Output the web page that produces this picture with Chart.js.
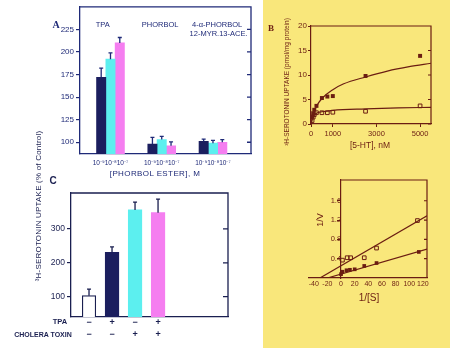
<!DOCTYPE html>
<html><head><meta charset="utf-8">
<script src="https://cdn.jsdelivr.net/npm/chart.js@4.4.1/dist/chart.umd.min.js"></script>
<style>
html,body{margin:0;padding:0;background:#fff;}
#page{position:relative;width:450px;height:348px;overflow:hidden;background:#fff;}
#yellow{position:absolute;left:263px;top:0;width:187px;height:348px;background:#f9e77b;}
canvas{position:absolute;}
.t{position:absolute;white-space:nowrap;line-height:1;font-family:'Liberation Sans',Arial,sans-serif;}
</style></head><body>
<div id="page">
<div id="yellow"></div>
<canvas id="cA" width="262" height="182" style="left:0;top:0;width:262px;height:182px"></canvas>
<canvas id="cC" width="262" height="166" style="left:0;top:182px;width:262px;height:166px"></canvas>
<canvas id="cB" width="187" height="160" style="left:263px;top:0;width:187px;height:160px"></canvas>
<canvas id="cD" width="187" height="150" style="left:263px;top:165px;width:187px;height:150px"></canvas>
</div>
<script>
// ---------- Panel A : phorbol esters ----------
const groupsA = [1, 2, 3];
const groupNamesA = [['TPA'], ['PHORBOL'], ['4-α-PHORBOL', '12-MYR.13-ACE.']];
const concLabelsA = ['10⁻⁹10⁻⁸10⁻⁷', '10⁻⁹10⁻⁸10⁻⁷', '10⁻⁹10⁻⁸10⁻⁷'];
const valuesA_1e9 = [172, 98, 101];
const errorsA_1e9 = [10, 7.5, 2.5];
const valuesA_1e8 = [192, 103, 99];
const errorsA_1e8 = [7, 3.5, 3];
const valuesA_1e7 = [210, 96, 100];
const errorsA_1e7 = [6, 4.5, 3];
const yTicksA = [100, 125, 150, 175, 200, 225];

// ---------- Panel C : TPA / cholera toxin ----------
const conditionsC = [1, 2, 3, 4];
const tpaSignsC = ['−', '+', '−', '+'];
const choleraSignsC = ['−', '−', '+', '+'];
const valuesC = [103, 231, 356, 348];
const errorsC = [19, 16, 23, 40];
const yTicksC = [100, 200, 300];

// ---------- Panel B : saturation ----------
const concB_filled = [50, 100, 150, 250, 500, 750, 1000, 2500, 5000];
const uptakeB_filled = [1.5, 2.2, 2.9, 3.7, 5.3, 5.6, 5.7, 9.8, 13.9];
const concB_open = [50, 100, 150, 250, 500, 750, 1000, 2500, 5000];
const uptakeB_open = [0.7, 1.4, 1.9, 2.3, 2.3, 2.3, 2.4, 2.6, 3.7];
const curveB_filled_x = [0, 100, 250, 500, 1000, 1500, 2500, 3500, 4500, 5500];
const curveB_filled_y = [0, 2.0, 3.6, 5.2, 7.0, 8.2, 9.6, 10.8, 11.7, 12.4];
const curveB_open_x = [0, 100, 250, 500, 1000, 2500, 4000, 5500];
const curveB_open_y = [0, 1.6, 2.2, 2.5, 2.8, 3.1, 3.3, 3.4];
const xTicksB = [0, 1000, 3000, 5000];
const yTicksB = [0, 5, 10, 15, 20];

// ---------- Panel D : double reciprocal ----------
const invS_filled = [0, 2, 8, 13, 20, 34, 52, 114];
const invV_filled = [0.08, 0.13, 0.16, 0.17, 0.18, 0.25, 0.31, 0.54];
const invS_open = [2, 9, 14, 34, 52, 112];
const invV_open = [0.37, 0.42, 0.42, 0.42, 0.62, 1.19];
const fitD_filled_x = [-20, 126];
const fitD_filled_y = [0, 0.6];
const fitD_open_x = [-31, 126];
const fitD_open_y = [0, 1.29];
const xTicksD = [-40, -20, 0, 20, 40, 60, 80, 100, 120];
const yTicksD = [0.4, 0.8, 1.2, 1.6];

// ---------- styling ----------
const NAVY = '#1b1e5e', CYAN = '#5cefef', PINK = '#f57ef0';
const INK_A = '#1f2a78', INK_C = '#1a1f50', MAROON = '#6b1d12';
const FONT = "'Liberation Sans', Arial, sans-serif";

Chart.defaults.animation = false;
Chart.defaults.responsive = false;
Chart.defaults.devicePixelRatio = 1;
Chart.defaults.font.family = FONT;
Chart.defaults.plugins.legend.display = false;
Chart.defaults.plugins.tooltip.enabled = false;

const pts = (xs, ys) => xs.map((x, i) => ({x: x, y: ys[i]}));
const setTicks = arr => s => { s.ticks = arr.map(v => ({value: v})); };

// frame: top + right borders with inward ticks
const frame = {
  id: 'frame',
  afterDraw(chart, args, o) {
    const {ctx, chartArea: a} = chart; const y = chart.scales.y;
    const left = o.fromZero ? chart.scales.x.getPixelForValue(0) : a.left;
    ctx.save(); ctx.strokeStyle = o.color; ctx.lineWidth = o.width || 1.2;
    ctx.beginPath();
    ctx.moveTo(left, a.top); ctx.lineTo(a.right, a.top); ctx.lineTo(a.right, a.bottom);
    y.ticks.forEach(t => { const py = y.getPixelForValue(t.value); ctx.moveTo(a.right, py); ctx.lineTo(a.right - (o.tick || 4), py); });
    ctx.stroke(); ctx.restore();
  }
};
// error bars (upper whisker with cap)
const errorBars = {
  id: 'errorBars',
  afterDatasetsDraw(chart, args, o) {
    const ctx = chart.ctx; const ys = chart.scales.y;
    chart.data.datasets.forEach((ds, di) => {
      if (!ds.errors) return;
      chart.getDatasetMeta(di).data.forEach((bar, i) => {
        const v = ds.data[i].y + ds.errors[i];
        const top = ys.getPixelForValue(v);
        ctx.save(); ctx.strokeStyle = o.color; ctx.lineWidth = 1.3;
        ctx.beginPath(); ctx.moveTo(bar.x, bar.y); ctx.lineTo(bar.x, top);
        ctx.moveTo(bar.x - o.cap, top); ctx.lineTo(bar.x + o.cap, top);
        ctx.stroke(); ctx.restore();
      });
    });
  }
};
// group names above bars (panel A)
const groupText = {
  id: 'groupText',
  afterDraw(chart, args, o) {
    if (!o.names) return;
    const ctx = chart.ctx; const xs = chart.scales.x;
    ctx.save(); ctx.fillStyle = o.color; ctx.font = o.font; ctx.textAlign = 'center'; ctx.textBaseline = 'middle';
    o.names.forEach((lines, i) => {
      const px = xs.getPixelForValue(o.at[i]);
      lines.forEach((l, j) => ctx.fillText(l, px + (o.dx[i] || 0) * j, o.y + j * o.lh));
    });
    ctx.restore();
  }
};

// ---------- Chart A ----------
new Chart(document.getElementById('cA'), {
  type: 'bar',
  data: { datasets: [
    {data: pts(groupsA, valuesA_1e9), errors: errorsA_1e9, backgroundColor: NAVY},
    {data: pts(groupsA, valuesA_1e8), errors: errorsA_1e8, backgroundColor: CYAN},
    {data: pts(groupsA, valuesA_1e7), errors: errorsA_1e7, backgroundColor: PINK}
  ]},
  options: {
    layout: {padding: {left: 0, right: 11, top: 5, bottom: 0}},
    datasets: {bar: {barThickness: 9.3}},
    scales: {
      x: {type: 'linear', min: 0.405, max: 3.742, offset: false,
          afterFit: s => { s.height = 28; }, afterBuildTicks: setTicks(groupsA),
          ticks: {callback: v => concLabelsA[groupsA.indexOf(v)], font: {size: 6.5}, color: INK_A, padding: 5, maxRotation: 0, autoSkip: false},
          grid: {display: false, drawTicks: false, offset: false}, border: {color: INK_A, width: 1.3}},
      y: {min: 87, max: 250,
          afterFit: s => { s.width = 80; }, afterBuildTicks: setTicks(yTicksA),
          ticks: {font: {size: 8}, color: INK_A, padding: 2},
          grid: {drawOnChartArea: false, tickLength: 4, color: INK_A, lineWidth: 1.2}, border: {color: INK_A, width: 1.3}}
    },
    plugins: {
      frame: {color: INK_A, width: 1.3},
      errorBars: {color: INK_A, cap: 2},
      groupText: {names: groupNamesA, at: [0.85, 1.97, 3.08], dx: [0, 0, 1.5], y: 25, lh: 9, color: INK_A, font: '7.5px ' + FONT}
    }
  },
  plugins: [frame, errorBars, groupText]
});

// ---------- Chart C ----------
new Chart(document.getElementById('cC'), {
  type: 'bar',
  data: { datasets: [
    {data: pts(conditionsC, valuesC), errors: errorsC,
     backgroundColor: ['#ffffff', NAVY, CYAN, PINK], borderColor: [INK_C, NAVY, CYAN, PINK], borderWidth: [1.2, 0, 0, 0], borderSkipped: 'bottom'}
  ]},
  options: {
    layout: {padding: {left: 0, right: 34, top: 11, bottom: 0}},
    datasets: {bar: {barThickness: 13.5}},
    scales: {
      x: {type: 'linear', min: 0.217, max: 7.04, offset: false,
          afterFit: s => { s.height = 31; }, afterBuildTicks: setTicks(conditionsC),
          ticks: {callback: v => { const i = conditionsC.indexOf(v); return [tpaSignsC[i], choleraSignsC[i]]; },
                  font: {size: 9, weight: 'bold', lineHeight: 1.33}, color: INK_C, padding: 0, maxRotation: 0, autoSkip: false},
          grid: {display: false, drawTicks: false, offset: false}, border: {color: INK_C, width: 1.3}},
      y: {min: 40, max: 406,
          afterFit: s => { s.width = 71; }, afterBuildTicks: setTicks(yTicksC),
          ticks: {font: {size: 8.5}, color: INK_C, padding: 2},
          grid: {drawOnChartArea: false, tickLength: 4, color: INK_C, lineWidth: 1.2}, border: {color: INK_C, width: 1.3}}
    },
    plugins: {frame: {color: INK_C, width: 1.3, tick: 5}, errorBars: {color: INK_C, cap: 2}}
  },
  plugins: [frame, errorBars]
});

// ---------- Chart B ----------
new Chart(document.getElementById('cB'), {
  type: 'scatter',
  data: { datasets: [
    {data: pts(curveB_filled_x, curveB_filled_y), showLine: true, pointRadius: 0, borderColor: MAROON, borderWidth: 1.2, cubicInterpolationMode: 'monotone'},
    {data: pts(curveB_open_x, curveB_open_y), showLine: true, pointRadius: 0, borderColor: MAROON, borderWidth: 1.2, cubicInterpolationMode: 'monotone'},
    {data: pts(concB_filled, uptakeB_filled), pointStyle: 'rect', pointRadius: 2.8, backgroundColor: MAROON, borderColor: MAROON, borderWidth: 0},
    {data: pts(concB_open, uptakeB_open), pointStyle: 'rect', pointRadius: 2.6, backgroundColor: 'rgba(0,0,0,0)', borderColor: MAROON, borderWidth: 1}
  ]},
  options: {
    layout: {padding: {left: 0, right: 19, top: 26, bottom: 0}},
    scales: {
      x: {type: 'linear', min: 0, max: 5500,
          afterFit: s => { s.height = 36; }, afterBuildTicks: setTicks(xTicksB),
          ticks: {font: {size: 7.5}, color: MAROON, padding: 2, maxRotation: 0, autoSkip: false, callback: v => String(v)},
          grid: {drawOnChartArea: false, tickLength: 3, color: MAROON}, border: {color: MAROON, width: 1.2}},
      y: {min: 0, max: 20,
          afterFit: s => { s.width = 48; }, afterBuildTicks: setTicks(yTicksB),
          ticks: {font: {size: 8}, color: MAROON, padding: 1},
          grid: {drawOnChartArea: false, tickLength: 3, color: MAROON}, border: {color: MAROON, width: 1.2}}
    },
    plugins: {frame: {color: MAROON, width: 1.2, tick: 3}}
  },
  plugins: [frame]
});

// ---------- Chart D ----------
new Chart(document.getElementById('cD'), {
  type: 'scatter',
  data: { datasets: [
    {data: pts(fitD_filled_x, fitD_filled_y), showLine: true, pointRadius: 0, borderColor: MAROON, borderWidth: 1.2},
    {data: pts(fitD_open_x, fitD_open_y), showLine: true, pointRadius: 0, borderColor: MAROON, borderWidth: 1.2},
    {data: pts(invS_filled, invV_filled), pointStyle: 'rect', pointRadius: 2.6, backgroundColor: MAROON, borderColor: MAROON, borderWidth: 0},
    {data: pts(invS_open, invV_open), pointStyle: 'rect', pointRadius: 2.6, backgroundColor: 'rgba(0,0,0,0)', borderColor: MAROON, borderWidth: 1}
  ]},
  options: {
    layout: {padding: {left: 46, right: 23, top: 15, bottom: 0}},
    scales: {
      x: {type: 'linear', min: -47, max: 126,
          afterFit: s => { s.height = 37; }, afterBuildTicks: setTicks(xTicksD),
          ticks: {font: {size: 7}, color: MAROON, padding: 2, maxRotation: 0, autoSkip: false},
          grid: {display: false, drawTicks: false}, border: {color: MAROON, width: 1.2}},
      y: {min: 0, max: 2.03, position: {x: 0},
          afterFit: s => { s.width = 0; }, afterBuildTicks: setTicks(yTicksD),
          ticks: {font: {size: 7.5}, color: MAROON, padding: 1, callback: v => v.toFixed(1)},
          grid: {drawOnChartArea: false, tickLength: 3, color: MAROON}, border: {color: MAROON, width: 1.2}}
    },
    plugins: {frame: {color: MAROON, width: 1.2, tick: 3, fromZero: true}}
  },
  plugins: [frame]
});

// ---------- free text ----------
const page = document.getElementById('page');
function txt(s, cx, cy, css, rot) {
  const d = document.createElement('div'); d.className = 't'; d.textContent = s;
  d.style.cssText += ';left:' + cx + 'px;top:' + cy + 'px;transform:translate(-50%,-50%)' + (rot ? ' rotate(' + rot + 'deg)' : '') + ';' + css;
  page.appendChild(d);
}
txt('A', 56, 24, "font:bold 10px 'Liberation Serif',serif;color:" + INK_A);
txt('[PHORBOL  ESTER], M', 155, 174, 'font-size:8px;letter-spacing:0.4px;color:' + INK_A);
txt('³H-SEROTONIN UPTAKE  (% of  Control)', 39, 206, 'font-size:8px;letter-spacing:0.2px;color:' + INK_C, -90);
txt('C', 53, 180, 'font:bold 10px ' + FONT + ';color:' + INK_C);
txt('TPA', 60, 322, 'font-size:7.5px;font-weight:bold;color:' + INK_C);
txt('CHOLERA TOXIN', 43, 334, 'font-size:7px;font-weight:bold;color:' + INK_C);
txt('B', 271, 28, "font:bold 9px 'Liberation Serif',serif;color:" + MAROON);
txt('³H-SEROTONIN UPTAKE (pmol/mg protein)', 287, 82, 'font-size:6.5px;color:' + MAROON, -90);
txt('[5-HT], nM', 370, 145, 'font-size:8.5px;color:' + MAROON);
txt('1/V', 320, 220, 'font-size:9px;color:' + MAROON, -90);
txt('1/[S]', 369, 298, 'font-size:10px;color:' + MAROON);
</script>
</body></html>
